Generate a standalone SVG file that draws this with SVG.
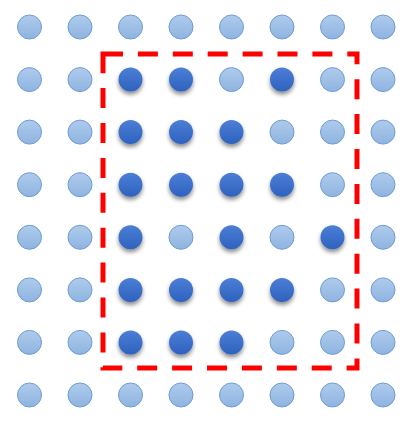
<svg xmlns="http://www.w3.org/2000/svg" width="416" height="423" viewBox="0 0 416 423">
<defs>
<linearGradient id="gl" x1="0" y1="0" x2="0" y2="1"><stop offset="0" stop-color="#AECBEC"/><stop offset="1" stop-color="#8FB4E0"/></linearGradient>
<linearGradient id="gd" x1="0" y1="0" x2="0" y2="1"><stop offset="0" stop-color="#4C7ED6"/><stop offset="1" stop-color="#2E62BE"/></linearGradient>
<filter id="sh" x="-50%" y="-50%" width="200%" height="200%"><feDropShadow dx="0" dy="3" stdDeviation="2" flood-color="#000" flood-opacity="0.45"/></filter>
</defs>
<style>
.l{fill:url(#gl);stroke:#6E9DD3;stroke-width:1}
.d{fill:url(#gd);filter:url(#sh)}
.box{fill:none;stroke:#FF0000;stroke-width:5;stroke-dasharray:20 14.9;stroke-linejoin:miter}
</style>
<rect width="416" height="423" fill="#fff"/>
<g id="r0"><g id="n0_0"><circle class="l" cx="29.5" cy="27" r="12"/></g><g id="n0_1"><circle class="l" cx="80" cy="27" r="12"/></g><g id="n0_2"><circle class="l" cx="130.5" cy="27" r="12"/></g><g id="n0_3"><circle class="l" cx="181" cy="27" r="12"/></g><g id="n0_4"><circle class="l" cx="231.5" cy="27" r="12"/></g><g id="n0_5"><circle class="l" cx="282" cy="27" r="12"/></g><g id="n0_6"><circle class="l" cx="332.5" cy="27" r="12"/></g><g id="n0_7"><circle class="l" cx="383" cy="27" r="12"/></g></g>
<g id="r1"><g id="n1_0"><circle class="l" cx="29.5" cy="79.6" r="12"/></g><g id="n1_1"><circle class="l" cx="80" cy="79.6" r="12"/></g><g id="n1_2"><circle class="d" cx="130.5" cy="79.6" r="12"/></g><g id="n1_3"><circle class="d" cx="181" cy="79.6" r="12"/></g><g id="n1_4"><circle class="l" cx="231.5" cy="79.6" r="12"/></g><g id="n1_5"><circle class="d" cx="282" cy="79.6" r="12"/></g><g id="n1_6"><circle class="l" cx="332.5" cy="79.6" r="12"/></g><g id="n1_7"><circle class="l" cx="383" cy="79.6" r="12"/></g></g>
<g id="r2"><g id="n2_0"><circle class="l" cx="29.5" cy="132.1" r="12"/></g><g id="n2_1"><circle class="l" cx="80" cy="132.1" r="12"/></g><g id="n2_2"><circle class="d" cx="130.5" cy="132.1" r="12"/></g><g id="n2_3"><circle class="d" cx="181" cy="132.1" r="12"/></g><g id="n2_4"><circle class="d" cx="231.5" cy="132.1" r="12"/></g><g id="n2_5"><circle class="l" cx="282" cy="132.1" r="12"/></g><g id="n2_6"><circle class="l" cx="332.5" cy="132.1" r="12"/></g><g id="n2_7"><circle class="l" cx="383" cy="132.1" r="12"/></g></g>
<g id="r3"><g id="n3_0"><circle class="l" cx="29.5" cy="184.7" r="12"/></g><g id="n3_1"><circle class="l" cx="80" cy="184.7" r="12"/></g><g id="n3_2"><circle class="d" cx="130.5" cy="184.7" r="12"/></g><g id="n3_3"><circle class="d" cx="181" cy="184.7" r="12"/></g><g id="n3_4"><circle class="d" cx="231.5" cy="184.7" r="12"/></g><g id="n3_5"><circle class="d" cx="282" cy="184.7" r="12"/></g><g id="n3_6"><circle class="l" cx="332.5" cy="184.7" r="12"/></g><g id="n3_7"><circle class="l" cx="383" cy="184.7" r="12"/></g></g>
<g id="r4"><g id="n4_0"><circle class="l" cx="29.5" cy="237.3" r="12"/></g><g id="n4_1"><circle class="l" cx="80" cy="237.3" r="12"/></g><g id="n4_2"><circle class="d" cx="130.5" cy="237.3" r="12"/></g><g id="n4_3"><circle class="l" cx="181" cy="237.3" r="12"/></g><g id="n4_4"><circle class="d" cx="231.5" cy="237.3" r="12"/></g><g id="n4_5"><circle class="l" cx="282" cy="237.3" r="12"/></g><g id="n4_6"><circle class="d" cx="332.5" cy="237.3" r="12"/></g><g id="n4_7"><circle class="l" cx="383" cy="237.3" r="12"/></g></g>
<g id="r5"><g id="n5_0"><circle class="l" cx="29.5" cy="289.9" r="12"/></g><g id="n5_1"><circle class="l" cx="80" cy="289.9" r="12"/></g><g id="n5_2"><circle class="d" cx="130.5" cy="289.9" r="12"/></g><g id="n5_3"><circle class="d" cx="181" cy="289.9" r="12"/></g><g id="n5_4"><circle class="d" cx="231.5" cy="289.9" r="12"/></g><g id="n5_5"><circle class="d" cx="282" cy="289.9" r="12"/></g><g id="n5_6"><circle class="l" cx="332.5" cy="289.9" r="12"/></g><g id="n5_7"><circle class="l" cx="383" cy="289.9" r="12"/></g></g>
<g id="r6"><g id="n6_0"><circle class="l" cx="29.5" cy="342.4" r="12"/></g><g id="n6_1"><circle class="l" cx="80" cy="342.4" r="12"/></g><g id="n6_2"><circle class="d" cx="130.5" cy="342.4" r="12"/></g><g id="n6_3"><circle class="d" cx="181" cy="342.4" r="12"/></g><g id="n6_4"><circle class="d" cx="231.5" cy="342.4" r="12"/></g><g id="n6_5"><circle class="l" cx="282" cy="342.4" r="12"/></g><g id="n6_6"><circle class="l" cx="332.5" cy="342.4" r="12"/></g><g id="n6_7"><circle class="l" cx="383" cy="342.4" r="12"/></g></g>
<g id="r7"><g id="n7_0"><circle class="l" cx="29.5" cy="395" r="12"/></g><g id="n7_1"><circle class="l" cx="80" cy="395" r="12"/></g><g id="n7_2"><circle class="l" cx="130.5" cy="395" r="12"/></g><g id="n7_3"><circle class="l" cx="181" cy="395" r="12"/></g><g id="n7_4"><circle class="l" cx="231.5" cy="395" r="12"/></g><g id="n7_5"><circle class="l" cx="282" cy="395" r="12"/></g><g id="n7_6"><circle class="l" cx="332.5" cy="395" r="12"/></g><g id="n7_7"><circle class="l" cx="383" cy="395" r="12"/></g></g>
<g id="selection"><path class="box" d="M103,54 H357 V368 H103 Z"/></g>
</svg>
